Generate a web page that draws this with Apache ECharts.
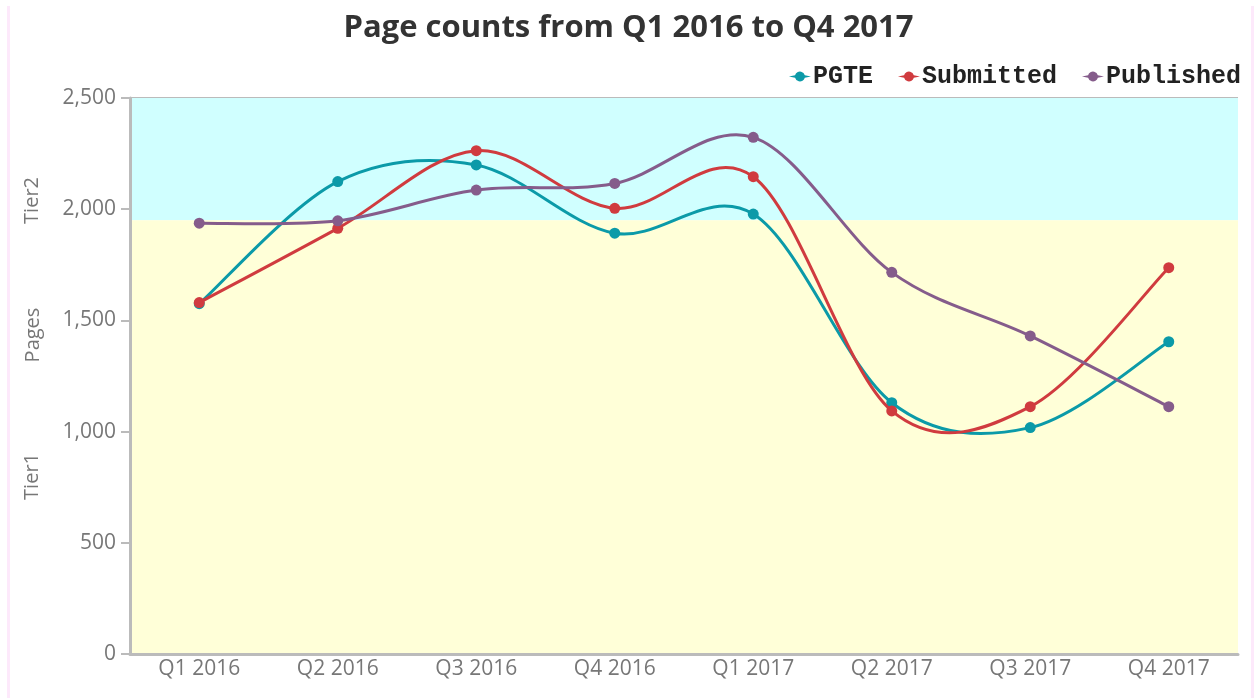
<!DOCTYPE html>
<html>
<head>
<meta charset="utf-8">
<script src="https://cdn.jsdelivr.net/npm/echarts@6/dist/echarts.min.js"></script>
<style>
html,body{margin:0;padding:0;background:#fff;}
#frame{position:absolute;left:7px;top:6px;width:1241px;height:692px;border-left:3px solid #fde9fb;border-right:3px solid #fde9fb;}
#chart{position:absolute;left:0;top:0;width:1257px;height:698px;}
</style>
</head>
<body>
<div id="frame"></div>
<div id="chart"></div>
<script>
var quarters = ['Q1 2016','Q2 2016','Q3 2016','Q4 2016','Q1 2017','Q2 2017','Q3 2017','Q4 2017'];
var pgte      = [1575, 2124, 2199, 1892, 1978, 1130, 1018, 1404];
var submitted = [1580, 1914, 2263, 2004, 2146, 1093, 1112, 1737];
var published = [1937, 1948, 2086, 2116, 2323, 1716, 1430, 1112];
var tierSplit = 1950;
var yTicks = [0, 500, 1000, 1500, 2000, 2500];

var colors = ['#0b9aa8','#d03b3f','#855c8b'];
var axisFont = '"Open Sans", sans-serif';
// dot with short line stubs, as in the original legend
var legendIcon = 'path://M0,5L6.15,3.8A5,5 0 0,1 15.85,3.8L22,5L15.85,6.2A5,5 0 0,1 6.15,6.2Z';

// cardinal (catmull-rom) curve through the points, like the original chart
function curvePath(p){
    var d = 'M' + p[0][0] + ',' + p[0][1];
    for(var i=0;i<p.length-1;i++){
        var p0 = p[i>0?i-1:i], p1 = p[i], p2 = p[i+1], p3 = p[i+2<p.length?i+2:i+1];
        var c1x = p1[0] + (p2[0]-p0[0])/6, c1y = p1[1] + (p2[1]-p0[1])/6;
        var c2x = p2[0] - (p3[0]-p1[0])/6, c2y = p2[1] - (p3[1]-p1[1])/6;
        d += 'C' + c1x + ',' + c1y + ' ' + c2x + ',' + c2y + ' ' + p2[0] + ',' + p2[1];
    }
    return d;
}

function mkSeries(name, data, i){
    var s = {name:name, type:'custom', z:3+i, itemStyle:{color:colors[i]},
        data:data.map(function(v,j){return [j,v];}), encode:{x:0,y:1},
        renderItem:function(params, api){
            var pts = data.map(function(v,j){return api.coord([j,v]);});
            var kids = [];
            if(params.dataIndex===0){
                kids.push({type:'path', shape:{pathData:curvePath(pts)},
                    style:{fill:null, stroke:colors[i], lineWidth:3}});
            }
            var c = pts[params.dataIndex];
            kids.push({type:'circle', shape:{cx:c[0], cy:c[1], r:5.5}, style:{fill:colors[i]}});
            return {type:'group', children:kids};
        }};
    if(i===0){
        s.markArea = {silent:true, z:0, data:[
            [{yAxis:tierSplit,itemStyle:{color:'#d0ffff'}},{yAxis:yTicks[yTicks.length-1]}],
            [{yAxis:0,itemStyle:{color:'#ffffd8'}},{yAxis:tierSplit}]
        ]};
    }
    return s;
}

var chart = echarts.init(document.getElementById('chart'));
chart.setOption({
    animation:false,
    title:{text:'Page counts from Q1 2016 to Q4 2017', left:'center', top:8,
        textStyle:{fontFamily:axisFont, fontWeight:'bold', fontSize:31, color:'#333'}},
    legend:{right:11, top:59, itemGap:25, itemWidth:22, itemHeight:10,
        textStyle:{fontFamily:'"Liberation Mono", monospace', fontWeight:'bold', fontSize:25, color:'#222', padding:[0,0,0,-3]},
        data:[{name:'PGTE',icon:legendIcon},{name:'Submitted',icon:legendIcon},{name:'Published',icon:legendIcon}]},
    grid:{left:130, right:19, top:98, bottom:44},
    xAxis:{type:'category', data:quarters, boundaryGap:true,
        axisLine:{lineStyle:{color:'#bbb',width:3}},
        axisTick:{alignWithLabel:true, length:7, lineStyle:{color:'#bbb',width:2}},
        axisLabel:{color:'#777', fontFamily:axisFont, fontSize:21, margin:5}},
    yAxis:{type:'value', min:0, max:2500, interval:500, name:'Pages', nameLocation:'middle', nameGap:87,
        nameTextStyle:{color:'#777', fontFamily:axisFont, fontSize:20, padding:[0,0,0,82]},
        axisLine:{show:true, lineStyle:{color:'#bbb',width:3}},
        axisTick:{show:true, length:9, lineStyle:{color:'#bbb',width:2}},
        splitLine:{lineStyle:{color:'#bbb',width:2}},
        axisLabel:{color:'#777', fontFamily:axisFont, fontSize:21, margin:14,
            formatter:function(v){return v.toLocaleString('en-US');}}},
    graphic:[
        {type:'text', left:22, top:177, rotation:Math.PI/2,
            style:{text:'Tier2', fill:'#777', font:'20px "Open Sans", sans-serif'}},
        {type:'text', left:22, top:453, rotation:Math.PI/2,
            style:{text:'Tier1', fill:'#777', font:'20px "Open Sans", sans-serif'}}
    ],
    series:[
        mkSeries('PGTE', pgte, 0),
        mkSeries('Submitted', submitted, 1),
        mkSeries('Published', published, 2)
    ]
});
</script>
</body>
</html>
